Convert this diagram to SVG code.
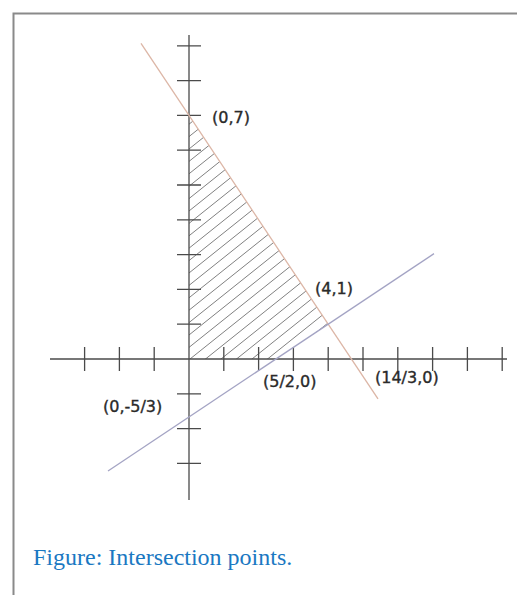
<svg xmlns="http://www.w3.org/2000/svg" width="517" height="595" viewBox="0 0 517 595">
  <style>
    .axis { stroke: #4a4a4a; stroke-width: 1.3; fill: none; }
    .hatch { stroke: #808080; stroke-width: 1; fill: none; }
    .lbl { font-family: "DejaVu Sans", sans-serif; font-size: 16px; fill: #2a2a2a; stroke: #2a2a2a; stroke-width: 0.35; }
    .cap { font-family: "Liberation Serif", "Times New Roman", serif; font-size: 24px; fill: #1a78c2; }
  </style>
  <defs>
    <clipPath id="region">
      <polygon points="189,359 189,115.4 328.2,324.2 276,359"/>
    </clipPath>
  </defs>
  <rect width="517" height="595" fill="#ffffff"/>
  <rect x="13.5" y="13.5" width="620" height="700" fill="none" stroke="#8a8a8a" stroke-width="2"/>

  <g id="hatching" clip-path="url(#region)">
    <path class="hatch" d="M198.5,439 L798.5,-41 M183,439 L783,-41 M167.5,439 L767.5,-41 M152,439 L752,-41 M136.5,439 L736.5,-41 M121,439 L721,-41 M105.5,439 L705.5,-41 M90,439 L690,-41 M74.5,439 L674.5,-41 M59,439 L659,-41 M43.5,439 L643.5,-41 M28,439 L628,-41 M12.5,439 L612.5,-41 M-3,439 L597,-41 M-18.5,439 L581.5,-41 M-34,439 L566,-41 M-49.5,439 L550.5,-41 M-65,439 L535,-41 M-80.5,439 L519.5,-41 M-96,439 L504,-41 M-111.5,439 L488.5,-41 M-127,439 L473,-41 M-142.5,439 L457.5,-41 M-158,439 L442,-41 M-173.5,439 L426.5,-41 M-189,439 L411,-41 M-204.5,439 L395.5,-41 M-220,439 L380,-41"/>
  </g>

  <g id="axes">
    <line class="axis" x1="50" y1="359" x2="507" y2="359"/>
    <line class="axis" x1="189" y1="35" x2="189" y2="500"/>
    <path class="axis" d="M84.6,347 V371 M119.4,347 V371 M154.2,347 V371 M223.8,347 V371 M258.6,347 V371 M293.4,347 V371 M328.2,347 V371 M363,347 V371 M397.8,347 V371 M432.6,347 V371 M467.4,347 V371 M502.2,347 V371"/>
    <path class="axis" d="M177,463.4 H201 M177,428.6 H201 M177,393.8 H201 M177,324.2 H201 M177,289.4 H201 M177,254.6 H201 M177,219.8 H201 M177,185 H201 M177,150.2 H201 M177,115.4 H201 M177,80.6 H201 M177,45.8 H201"/>
  </g>

  <g id="connectors">
    <line id="line1" x1="141" y1="43.4" x2="378" y2="398.9" stroke="#dcb6a6" stroke-width="1.3"/>
    <line id="line2" x1="108" y1="471" x2="434" y2="253.6" stroke="#a4a4c4" stroke-width="1.3"/>
  </g>

  <g id="p07"><text class="lbl" x="212" y="123">(0,7)</text></g>
  <g id="p41"><text class="lbl" x="315" y="294">(4,1)</text></g>
  <g id="p520"><text class="lbl" x="263" y="387">(5/2,0)</text></g>
  <g id="p1430"><text class="lbl" x="375" y="383">(14/3,0)</text></g>
  <g id="p053"><text class="lbl" x="103" y="412">(0,-5/3)</text></g>

  <g id="caption"><text class="cap" x="33" y="565">Figure: Intersection points.</text></g>
</svg>
